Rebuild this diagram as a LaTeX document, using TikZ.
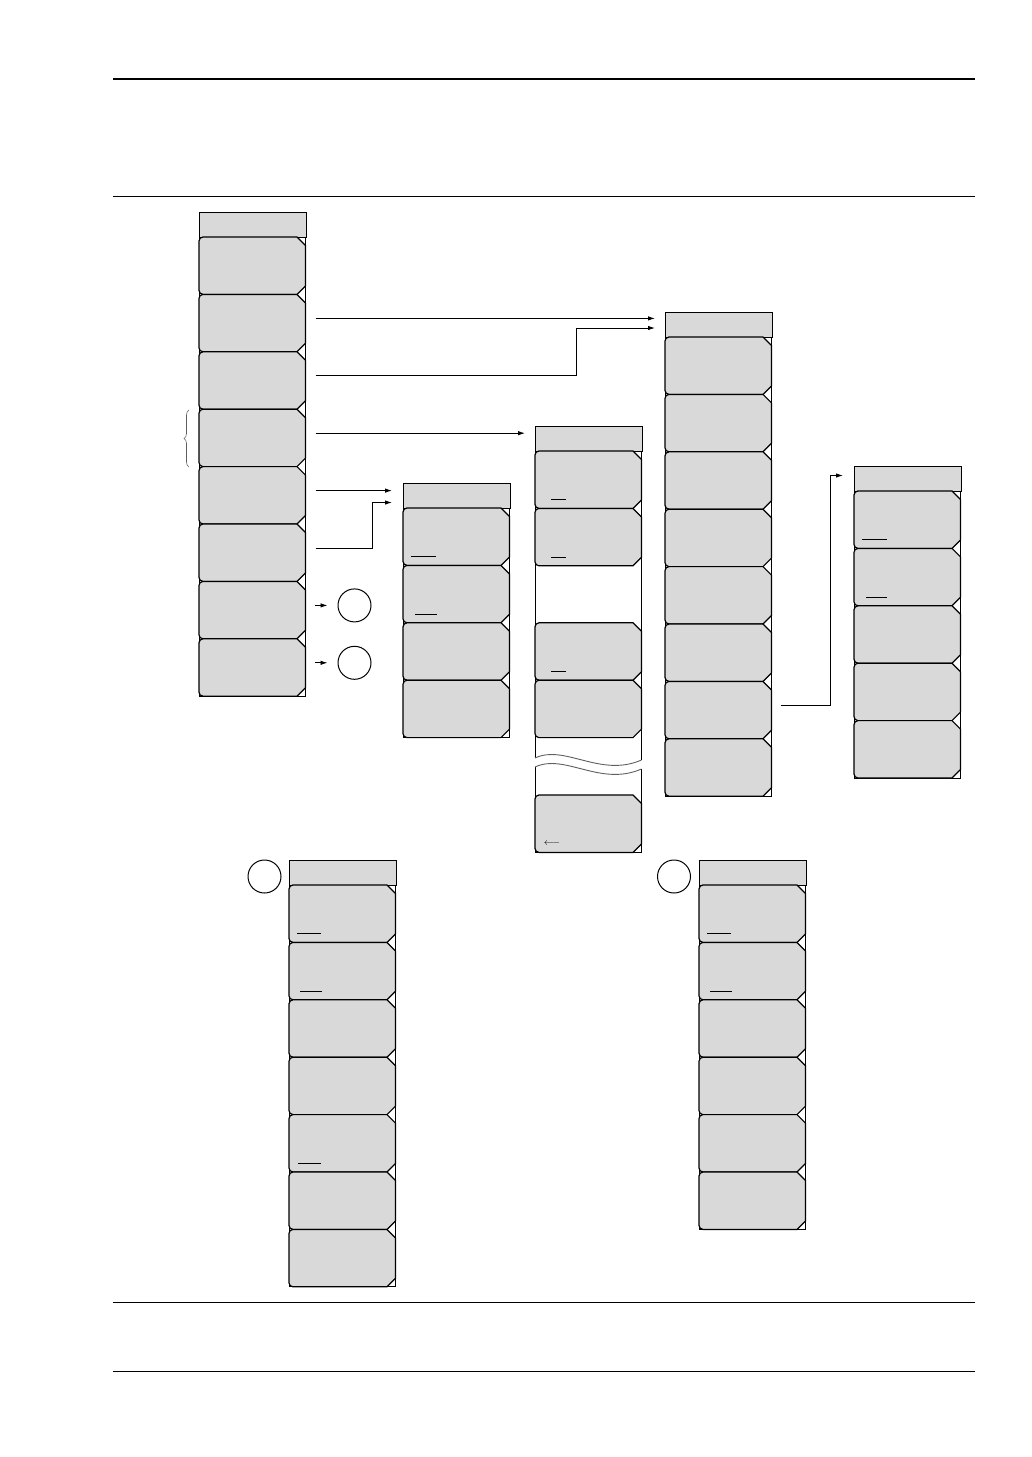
\documentclass[tikz,border=0pt]{standalone}
\usepackage{tikz}
\usetikzlibrary{arrows.meta, decorations.pathreplacing}
\definecolor{KeyGray}{RGB}{217, 217, 217}
\definecolor{WaveGray}{RGB}{95, 95, 95}
\tikzstyle{menutitle} = [rectangle, draw=black, fill=KeyGray, line width=1pt, minimum width=106.5pt, minimum height=25pt, inner sep=0pt, anchor=north west]
\tikzstyle{keyface} = [draw=black, fill=KeyGray, line width=1.2pt]
\tikzstyle{frame} = [draw=black, line width=0.9pt]
\tikzstyle{arrow} = [-{Latex[length=7pt, width=4.5pt]}, line width=0.9pt]
\tikzstyle{marker} = [circle, draw=black, line width=1pt, minimum size=33pt, inner sep=0pt]
\tikzstyle{choice} = [line width=0.9pt]
\tikzstyle{rule} = [line width=1pt]
\tikzstyle{wave} = [WaveGray, line width=0.9pt]
\newcommand{\keyh}{57.4}
% soft key: name, left x, top y
\newcommand{\softkey}[3]{%
  \filldraw[keyface] ({#2+18},{#3}) [rounded corners=4pt] -- ({#2},{#3}) -- ({#2},{#3+\keyh}) -- ({#2+18},{#3+\keyh})
    [sharp corners] -- ({#2+98},{#3+\keyh}) -- ({#2+106.5},{#3+\keyh-8.5}) -- ({#2+106.5},{#3+8.5}) -- ({#2+98},{#3}) -- cycle;
  \coordinate (#1) at ({#2+106.5},{#3+24});
}

\begin{document}
\begin{tikzpicture}[x=1pt, y=-1pt]
\useasboundingbox (0,0) rectangle (1032,1457);

% Page rules
\draw[line width=2.2pt] (113,79) -- (975,79);
\draw[rule] (113,196) -- (975,196);
\draw[rule] (113,1302) -- (975,1302);
\draw[rule] (113,1371) -- (975,1371);

% Main menu
\draw[frame] (199,212) rectangle (305.5,696.2);
\node[menutitle] (m0t) at (199,212) {};
\foreach \i in {1,...,8} {\softkey{m0k\i}{199}{237+\keyh*(\i-1)}}
\draw[decorate, decoration={brace, amplitude=5pt}, wave, line width=0.6pt] (189,467) -- (189,410);

% Continuation markers
\node[marker] (marka) at ([xshift=49pt]m0k7) {};
\node[marker] (markb) at ([xshift=49pt]m0k8) {};
\draw[arrow] ([xshift=9pt]m0k7) -- ([xshift=-10pt]marka.west);
\draw[arrow] ([xshift=9pt]m0k8) -- ([xshift=-10pt]markb.west);

% Menu with four keys
\draw[frame] (403,483) rectangle (509.5,737.6);
\node[menutitle] (m3t) at (403,483) {};
\foreach \i in {1,...,4} {\softkey{m3k\i}{403}{508+\keyh*(\i-1)}}
\draw[choice] (411,556.9) -- (436,556.9);
\draw[choice] (415,614.3) -- (437,614.3);

% Long menu with a break
\draw[frame] (535,758) -- (535,426) -- (641.5,426) -- (641.5,760);
\draw[frame] (535,767) -- (535,852.4) -- (641.5,852.4) -- (641.5,769);
\node[menutitle] (m1t) at (535,426) {};
\softkey{m1k1}{535}{451}
\softkey{m1k2}{535}{508.4}
\softkey{m1k3}{535}{622.8}
\softkey{m1k4}{535}{680.2}
\softkey{m1k5}{535}{795}
\draw[wave] (535,758) .. controls (565,744) and (600,778) .. (641.5,760);
\draw[wave] (535,767) .. controls (565,753) and (600,787) .. (641.5,769);
\draw[choice] (551,499.9) -- (566,499.9);
\draw[choice] (551,557.3) -- (566,557.3);
\draw[choice] (551,671.7) -- (566,671.7);
\node[inner sep=0pt] (back) at (552,843.5) {$\longleftarrow$};

% Menu with eight keys
\draw[frame] (665,312) rectangle (771.5,796.2);
\node[menutitle] (m2t) at (665,312) {};
\foreach \i in {1,...,8} {\softkey{m2k\i}{665}{337+\keyh*(\i-1)}}

% Menu with five keys
\draw[frame] (854,466) rectangle (960.5,778);
\node[menutitle] (m4t) at (854,466) {};
\foreach \i in {1,...,5} {\softkey{m4k\i}{854}{491+\keyh*(\i-1)}}
\draw[choice] (862,539.9) -- (887,539.9);
\draw[choice] (866,597.3) -- (887,597.3);

% Arrows from the main menu
\draw[arrow] ([xshift=10pt]m0k2) -- ([xshift=-10pt]m2t.west |- m0k2);
\draw[arrow] ([xshift=10pt]m0k3) -| ([shift={(-89,3)}]m2t.west) -- ([shift={(-10,3)}]m2t.west);
\draw[arrow] ([xshift=10pt]m0k4) -- ([xshift=-10pt]m1t.west |- m0k4);
\draw[arrow] ([xshift=10pt]m0k5) -- ([xshift=-11pt]m3t.west |- m0k5);
\draw[arrow] ([xshift=10pt]m0k6) -| ([shift={(-31,6.5)}]m3t.west) -- ([shift={(-11,6.5)}]m3t.west);
\draw[arrow] ([xshift=9pt]m2k7) -| ([shift={(-24,-3.5)}]m4t.west) -- ([shift={(-11,-3.5)}]m4t.west);

% Continued menu A
\node[marker] (markacont) at (264.5,876.5) {};
\draw[frame] (289,860) rectangle (395.5,1286.8);
\node[menutitle] (m5t) at (289,860) {};
\foreach \i in {1,...,7} {\softkey{m5k\i}{289}{885+\keyh*(\i-1)}}
\draw[choice] (297,933.9) -- (321,933.9);
\draw[choice] (300,991.3) -- (322,991.3);
\draw[choice] (298,1163.5) -- (321,1163.5);

% Continued menu B
\node[marker] (markbcont) at (674,876.5) {};
\draw[frame] (699,860) rectangle (805.5,1229.4);
\node[menutitle] (m6t) at (699,860) {};
\foreach \i in {1,...,6} {\softkey{m6k\i}{699}{885+\keyh*(\i-1)}}
\draw[choice] (707,933.9) -- (731,933.9);
\draw[choice] (710,991.3) -- (732,991.3);

\end{tikzpicture}
\end{document}
